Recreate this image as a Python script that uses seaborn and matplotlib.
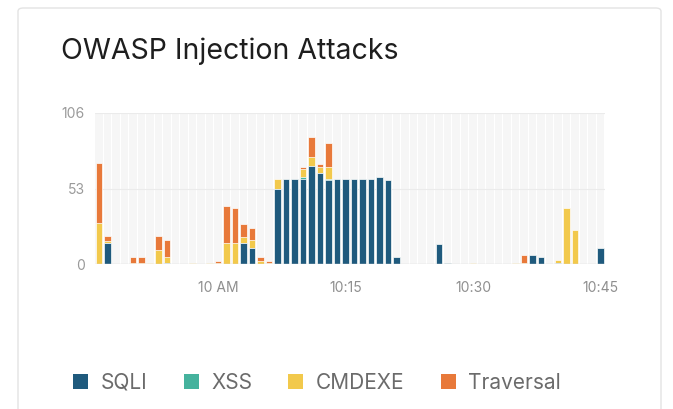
import numpy as np
import pandas as pd
import matplotlib.pyplot as plt
import seaborn as sns
from matplotlib.patches import FancyBboxPatch

# one bar per minute, 09:46 .. 10:45
minutes = pd.date_range("2019-01-01 09:46", periods=60, freq="min").strftime("%H:%M").tolist()

sqli = [0, 15, 0, 0, 0, 0, 0, 0, 1, 0,
        0, 0, 0, 0, 0, 0, 0, 15, 11, 0,
        0, 53, 60, 60, 60, 69, 64, 59, 60, 60,
        60, 60, 60, 61, 59, 5, 0, 0, 0, 0,
        14, 1, 0, 0, 0, 0, 0, 0, 0, 0,
        0, 6, 5, 0, 1, 0, 0, 0, 0, 11]
xss = [0] * 24 + [1, 0, 0, 1] + [0] * 32
cmdexe = [29, 1, 0, 0, 1, 1, 1, 10, 4, 0,
          0, 1, 0, 1, 1, 15, 15, 4, 6, 2,
          1, 7, 0, 0, 6, 6, 4, 8, 0, 0,
          0, 0, 0, 0, 0, 0, 0, 0, 0, 0,
          0, 0, 0, 0, 1, 0, 0, 0, 0, 1,
          1, 0, 0, 0, 2, 39, 24, 0, 0, 0]
traversal = [42, 4, 0, 0, 4, 4, 0, 10, 12, 0,
             0, 0, 0, 0, 1, 26, 24, 9, 8, 3,
             1, 0, 0, 0, 1, 14, 2, 17, 0, 0,
             0, 0, 0, 0, 0, 0, 0, 0, 0, 0,
             0, 0, 0, 0, 0, 0, 0, 0, 0, 0,
             5, 0, 0, 0, 0, 0, 0, 0, 0, 0]

series = ["SQLI", "XSS", "CMDEXE", "Traversal"]
colors = ["#1f5a7d", "#45b29d", "#f2c94c", "#e8793a"]
tick_minutes = ["10:00", "10:15", "10:30", "10:45"]
tick_labels = ["10 AM", "10:15", "10:30", "10:45"]

df = pd.DataFrame({"minute": minutes, "SQLI": sqli, "XSS": xss,
                   "CMDEXE": cmdexe, "Traversal": traversal})

sns.set_theme(style="white")
plt.rcParams["font.family"] = ["Inter", "DejaVu Sans"]

fig = plt.figure(figsize=(6.73, 4.09), dpi=100)
ax = fig.add_axes([94.75 / 673, 1 - 264 / 409, 510 / 673, 151 / 409])

# card outline
fig.patches.append(FancyBboxPatch((18 / 673, -0.05), 643 / 673, 1.05 - 8 / 409,
                                  boxstyle="round,pad=0,rounding_size=0.008",
                                  transform=fig.transFigure, fc="none",
                                  ec="#e3e3e3", lw=1))

# striped background slots
for i in range(len(minutes)):
    ax.axvspan(i - 0.43, i + 0.43, color="#f6f6f6", zorder=0, lw=0)

# stacked bars: draw cumulative totals from the top down
cum = df[series].cumsum(axis=1)
for name, col in reversed(list(zip(series, colors))):
    sns.barplot(x=df["minute"], y=cum[name], color=col, saturation=1,
                width=0.76, edgecolor="white", linewidth=0.5, ax=ax,
                order=minutes, zorder=2)

ax.set_xlim(-0.5, len(minutes) - 0.5)
ax.set_ylim(0, 106)
ax.set_yticks([0, 53, 106])
ax.axhline(53, color="#ebebeb", lw=0.8, zorder=1)
ax.axhline(106, color="#ebebeb", lw=0.8, zorder=1)
ax.axhline(0, color="#dcdcdc", lw=1, zorder=3)

ax.set_xticks([minutes.index(m) for m in tick_minutes])
ax.set_xticklabels(tick_labels)
ax.set_xlabel("")
ax.set_ylabel("")
ax.tick_params(axis="x", length=4, width=0.8, color="#dddddd",
               labelcolor="#8f8f8f", labelsize=10, pad=8)
ax.tick_params(axis="y", length=0, labelcolor="#9a9a9a", labelsize=10, pad=7)
sns.despine(ax=ax, left=True, bottom=True)

fig.text(61 / 673, 1 - 59 / 409, "OWASP Injection Attacks", fontsize=20.5,
         color="#1e1e1e", va="baseline", ha="left")

handles = [plt.Rectangle((0, 0), 1, 1, fc=c, ec="none") for c in colors]
leg = fig.legend(handles, series, loc="center left",
                 bbox_to_anchor=(73 / 673, 1 - 383 / 409), ncol=4, frameon=False,
                 borderpad=0, borderaxespad=0,
                 handlelength=0.72, handleheight=0.72, handletextpad=0.62,
                 columnspacing=1.72, fontsize=15)
for t in leg.get_texts():
    t.set_color("#6b6b6b")

fig.savefig("out.png", dpi=100, facecolor="white")
